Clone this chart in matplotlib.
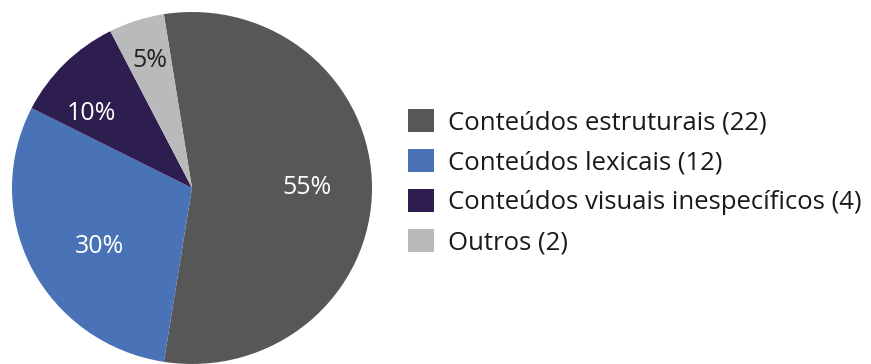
import matplotlib
matplotlib.use("Agg")
import matplotlib.pyplot as plt
from matplotlib.patches import Patch
import numpy as np

# Data
categories = ["Conteúdos estruturais", "Conteúdos lexicais",
              "Conteúdos visuais inespecíficos", "Outros"]
counts = [22, 12, 4, 2]
colors = ["#575757", "#4a72b6", "#2d1e4f", "#bababc"]
label_colors = ["white", "white", "white", "#222222"]

plt.rcParams["font.family"] = ["Open Sans", "DejaVu Sans"]

W, H = 871, 364
fig = plt.figure(figsize=(W / 100, H / 100), dpi=100)

# pie centre and radii in pixels
cx, cy_top, rx, ry = 192, 188, 180, 176
cy = H - cy_top
ax = fig.add_axes([(cx - rx) / W, (cy - ry) / H, 2 * rx / W, 2 * ry / H])

total = sum(counts)
pcts = [100 * c / total for c in counts]
wedges, _ = ax.pie(counts, colors=colors, startangle=99, counterclock=False,
                   radius=1.0, wedgeprops=dict(linewidth=0))
ax.set_aspect("auto")
ax.set_xlim(-1, 1)
ax.set_ylim(-1, 1)
ax.axis("off")
for w in wedges:
    w.set_clip_on(False)

# percentage labels: (angle in degrees, radial fraction)
label_pos = [(0, 0.64), (213, 0.61), (143, 0.70), (108, 0.76)]
for p, (ang, r), tc in zip(pcts, label_pos, label_colors):
    a = np.deg2rad(ang)
    ax.text(r * np.cos(a), r * np.sin(a), f"{p:.0f}%", color=tc,
            fontsize=18, ha="center", va="center")

# legend
handles = [Patch(facecolor=c, edgecolor="none") for c in colors]
labels = [f"{name} ({n})" for name, n in zip(categories, counts)]
fs = 18.5
fpx = fs * 100 / 72
leg = fig.legend(handles, labels, loc="upper left",
                 bbox_to_anchor=(408 / W, 1 - 109 / H),
                 frameon=False, fontsize=fs,
                 handlelength=26 / fpx, handleheight=26 / fpx,
                 handletextpad=14 / fpx, labelspacing=0.53,
                 borderpad=0, borderaxespad=0)
for t in leg.get_texts():
    t.set_color("#1a1a1a")

fig.savefig("out.png", dpi=100, facecolor="white")
